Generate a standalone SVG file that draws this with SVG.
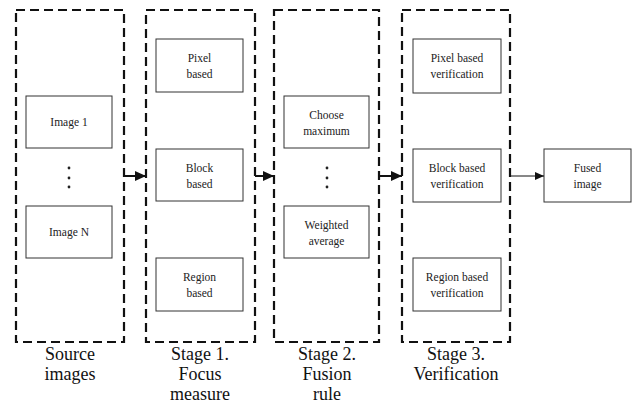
<svg xmlns="http://www.w3.org/2000/svg" width="633" height="405" viewBox="0 0 633 405">
<style>
.stage{fill:none;stroke:#111;stroke-width:2.2;stroke-dasharray:9,5}
.box{fill:#fff;stroke:#333;stroke-width:1}
.t{font-size:11.5px;fill:#222;text-anchor:middle}
.lbl{font-size:18px;fill:#111;text-anchor:middle}
.dot{fill:#222}
.c{stroke:#111;fill:none}
</style>
<defs>
<marker id="ah" markerWidth="12" markerHeight="10" refX="11" refY="5" orient="auto" markerUnits="userSpaceOnUse"><path d="M0,0 L11,5 L0,10 Z" fill="#111"/></marker>
<marker id="ah2" markerWidth="10" markerHeight="8" refX="9" refY="4" orient="auto" markerUnits="userSpaceOnUse"><path d="M0,0 L9,4 L0,8 Z" fill="#111"/></marker>
</defs>
<g font-family="Liberation Serif, DejaVu Serif, Times New Roman, serif">
<g id="source">
<rect class="stage" x="16" y="10" width="108" height="332"/>
<g id="image1"><rect class="box" x="26" y="96" width="86" height="52"/><text class="t" x="69" y="126">Image 1</text></g>
<circle class="dot" cx="69" cy="168" r="1.4"/><circle class="dot" cx="69" cy="178" r="1.4"/><circle class="dot" cx="69" cy="187" r="1.4"/>
<g id="imageN"><rect class="box" x="26" y="206" width="86" height="52"/><text class="t" x="69" y="236">Image N</text></g>
<text class="lbl" x="70" y="360">Source</text><text class="lbl" x="70" y="380">images</text>
</g>
<g id="stage1">
<rect class="stage" x="146" y="10" width="109" height="332"/>
<g id="pixel"><rect class="box" x="156" y="39" width="87" height="53"/><text class="t" x="199.5" y="62">Pixel</text><text class="t" x="199.5" y="78">based</text></g>
<g id="block"><rect class="box" x="156" y="149" width="87" height="52"/><text class="t" x="199.5" y="172">Block</text><text class="t" x="199.5" y="188">based</text></g>
<g id="region"><rect class="box" x="156" y="258" width="87" height="53"/><text class="t" x="199.5" y="281">Region</text><text class="t" x="199.5" y="297">based</text></g>
<text class="lbl" x="200" y="360">Stage 1.</text><text class="lbl" x="200" y="380">Focus</text><text class="lbl" x="200" y="400">measure</text>
</g>
<g id="stage2">
<rect class="stage" x="274" y="10" width="105" height="332"/>
<g id="choose"><rect class="box" x="284" y="96" width="85" height="52"/><text class="t" x="326.5" y="119">Choose</text><text class="t" x="326.5" y="135">maximum</text></g>
<circle class="dot" cx="327" cy="168" r="1.4"/><circle class="dot" cx="327" cy="178" r="1.4"/><circle class="dot" cx="327" cy="187" r="1.4"/>
<g id="weighted"><rect class="box" x="284" y="206" width="85" height="52"/><text class="t" x="326.5" y="229">Weighted</text><text class="t" x="326.5" y="245">average</text></g>
<text class="lbl" x="327" y="360">Stage 2.</text><text class="lbl" x="327" y="380">Fusion</text><text class="lbl" x="327" y="400">rule</text>
</g>
<g id="stage3">
<rect class="stage" x="402" y="10" width="108" height="332"/>
<g id="pixelv"><rect class="box" x="413" y="39" width="88" height="54"/><text class="t" x="457" y="62">Pixel based</text><text class="t" x="457" y="78">verification</text></g>
<g id="blockv"><rect class="box" x="413" y="149" width="88" height="53"/><text class="t" x="457" y="172">Block based</text><text class="t" x="457" y="188">verification</text></g>
<g id="regionv"><rect class="box" x="413" y="258" width="88" height="53"/><text class="t" x="457" y="281">Region based</text><text class="t" x="457" y="297">verification</text></g>
<text class="lbl" x="456" y="360">Stage 3.</text><text class="lbl" x="456" y="380">Verification</text>
</g>
<g id="fused"><rect class="box" x="544" y="149" width="87" height="53"/><text class="t" x="587.5" y="172">Fused</text><text class="t" x="587.5" y="188">image</text></g>
</g>
<g id="connectors">
<line class="c" x1="124" y1="176" x2="146" y2="176" stroke-width="2" marker-end="url(#ah)"/>
<line class="c" x1="255" y1="176" x2="274" y2="176" stroke-width="2" marker-end="url(#ah)"/>
<line class="c" x1="379" y1="176" x2="402" y2="176" stroke-width="2" marker-end="url(#ah)"/>
<line class="c" x1="510" y1="176" x2="544" y2="176" stroke-width="1" marker-end="url(#ah2)"/>
</g>
</svg>
